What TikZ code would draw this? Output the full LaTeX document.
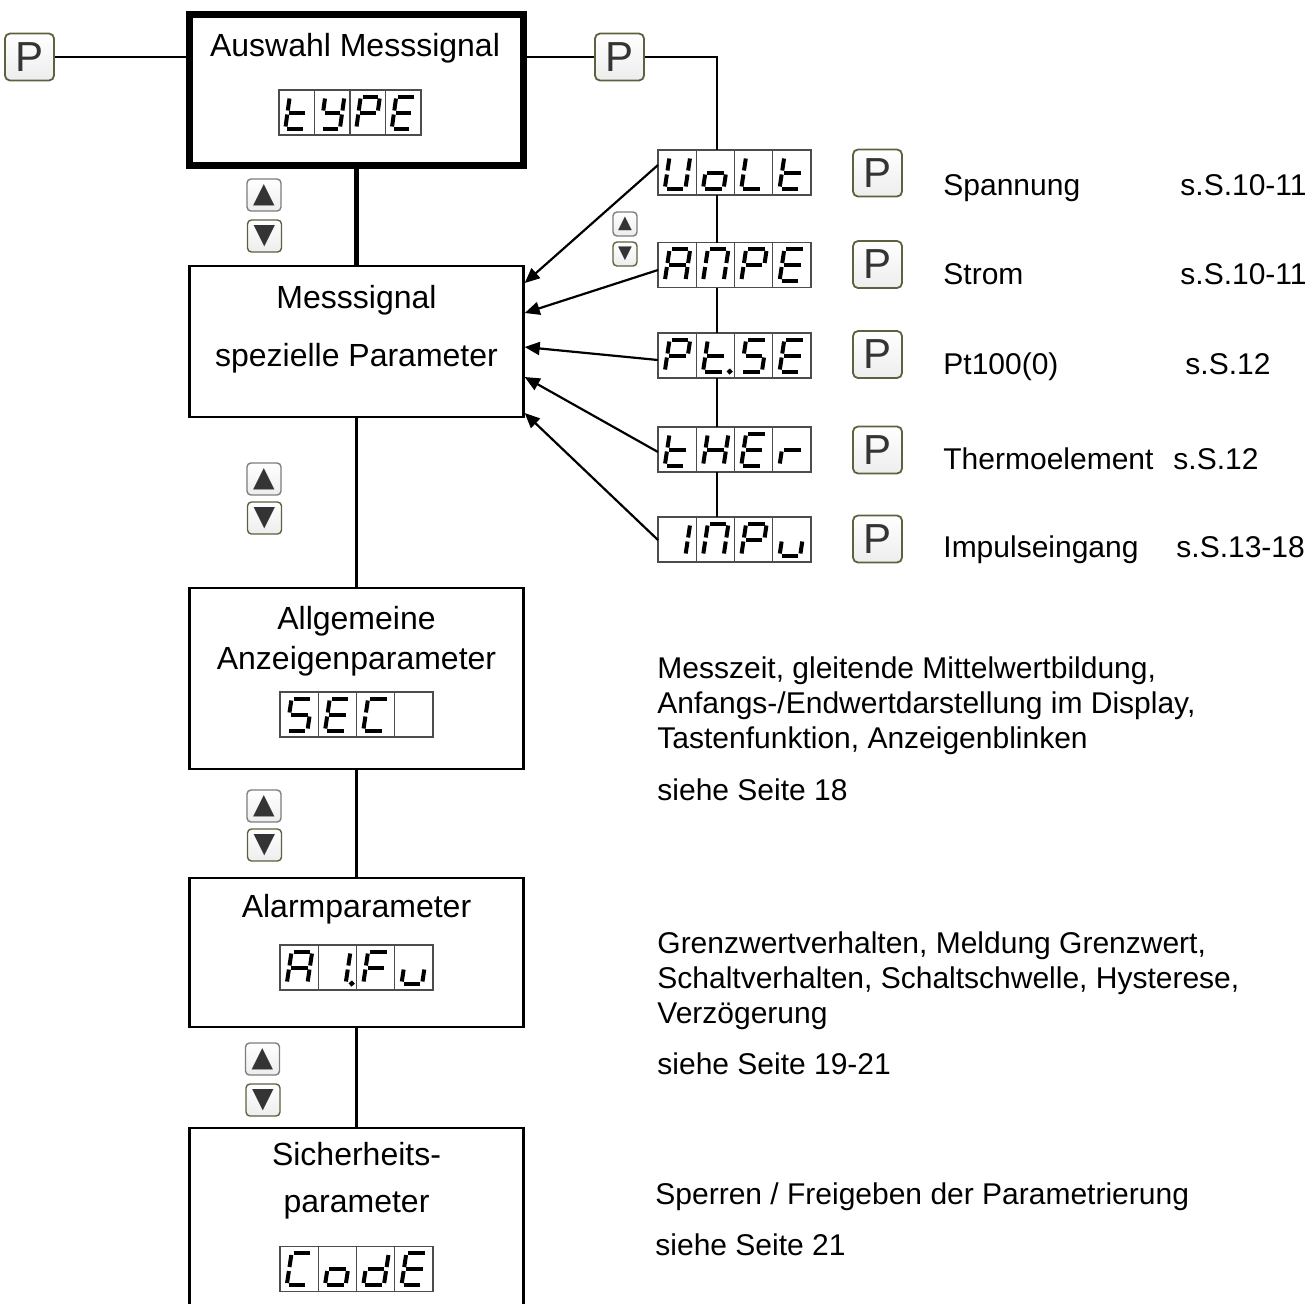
\documentclass[tikz,border=0pt]{standalone}
\usepackage{fontspec}
\setmainfont{Liberation Sans}
\newfontfamily\keyfont{DejaVu Sans}
\usepackage{tikz}
\usetikzlibrary{arrows.meta, calc}
\definecolor{keyolive}{RGB}{96, 96, 62}
\definecolor{keygray}{RGB}{125, 125, 125}
\definecolor{glyphgray}{RGB}{52, 52, 52}

% seven-segment pieces, one cell is 38 x 45
\def\sega{(14.5,6.5) -- (31,6.5)}
\def\segb{(33,8.5) -- (33,20.5)}
\def\segc{(33,24.5) -- (33,36.5)}
\def\segd{(14.5,38.5) -- (31,38.5)}
\def\sege{(12.5,24.5) -- (12.5,36.5)}
\def\segf{(12.5,8.5) -- (12.5,20.5)}
\def\segg{(14.5,22.5) -- (31,22.5)}
\def\segp{(39,38.5) circle (0.3)}
\def\segn{}

\newcommand{\segcell}[2]{%
  \begin{scope}[shift={(#1,0)}, xslant=0.15]
    \foreach \s in {#2} {%
      \expandafter\let\expandafter\segpath\csname seg\s\endcsname
      \draw[segline] \segpath;}
  \end{scope}}
\newcommand{\segdisplay}[7]{%
  \node[disp, minimum width={4*#3*0.5pt}] (#1) at (#2) {};
  \foreach \i in {1,2,3}
    \draw[dispframe] ($(#1.north west)+(\i*#3,0)$) -- ($(#1.south west)+(\i*#3,0)$);
  \begin{scope}[shift={(#1.north west)}, xscale=#3/38]
    \segcell{0}{#4}\segcell{38}{#5}\segcell{76}{#6}\segcell{114}{#7}
  \end{scope}}

\begin{document}
\begin{tikzpicture}[x=0.5pt, y=-0.5pt,
  mainbox/.style={draw, line width=3.5pt, minimum width=167pt, minimum height=75.5pt, inner sep=0pt},
  stepbox/.style={draw, line width=1.2pt, minimum width=167pt, inner sep=0pt},
  boxtext/.style={font=\fontsize{16}{19}\selectfont, anchor=base, inner sep=0pt},
  lbl/.style={font=\fontsize{15}{18}\selectfont, anchor=base west, inner sep=0pt},
  pkey/.style={draw=keyolive, line width=0.9pt, rounded corners=2.5pt, top color=white, bottom color=black!7, minimum width=24.5pt, minimum height=23.5pt, inner sep=0pt, text=glyphgray, font=\fontsize{21}{21}\selectfont},
  upkey/.style={draw=keygray, line width=0.7pt, rounded corners=2pt, top color=white, bottom color=black!7, minimum width=17pt, minimum height=16pt, inner sep=0pt, text=glyphgray, font=\keyfont\fontsize{14}{14}\selectfont},
  downkey/.style={upkey, draw=keyolive},
  smallkey/.style={minimum width=12pt, minimum height=12pt, font=\keyfont\fontsize{9}{9}\selectfont},
  disp/.style={draw=black!70, line width=0.6pt, fill=white, minimum height=22.5pt, inner sep=0pt, outer sep=0pt},
  dispframe/.style={draw=black!70, line width=0.6pt},
  segline/.style={line width=2pt},
  link/.style={line width=1.1pt},
  arr/.style={line width=1.1pt, -{Triangle[length=7.5pt, width=6.5pt]}}
]
  \useasboundingbox (0,0) rectangle (1315,1303);
  \clip (0,0) rectangle (1315,1303);

  % selection of the input signal
  \node[pkey] (pleft) at (29.5,57) {P};
  \node[mainbox] (main) at (356.5,90) {};
  \node[boxtext] (tmain) at (355,56) {Auswahl Messsignal};
  \segdisplay{type}{350,112.5}{35.5}{d,e,f,g}{b,c,d,f,g}{a,b,e,f,g}{a,d,e,f,g}
  \node[pkey] (pright) at (619.5,57) {P};

  % signal types
  \segdisplay{volt}{734.5,172.5}{38.25}{b,c,d,e,f}{c,d,e,g}{d,e,f}{d,e,f,g}
  \segdisplay{ampe}{734.5,265}{38.25}{a,b,c,e,f,g}{a,b,c,e,f}{a,b,e,f,g}{a,d,e,f,g}
  \segdisplay{ptse}{734.5,355.5}{38.25}{a,b,e,f,g}{d,e,f,g,p}{a,c,d,f,g}{a,d,e,f,g}
  \segdisplay{ther}{734.5,449.5}{38.25}{d,e,f,g}{b,c,e,f,g}{a,d,e,f,g}{e,g}
  \segdisplay{inpu}{734.5,539.5}{38.25}{b,c}{a,b,c,e,f}{a,b,e,f,g}{c,d,e}
  \node[upkey, smallkey] (upsel) at (625,224) {▲};
  \node[downkey, smallkey] (dnsel) at (625,254) {▼};

  \node[pkey] (pvolt) at (877.5,173) {P};
  \node[pkey] (pampe) at (877.5,264.5) {P};
  \node[pkey] (pptse) at (877.5,354.5) {P};
  \node[pkey] (pther) at (877.5,450) {P};
  \node[pkey] (pinpu) at (877.5,539) {P};
  \node[lbl] (lvolt) at (943,195) {Spannung};
  \node[lbl] (svolt) at (1180,195) {s.S.10-11};
  \node[lbl] (lampe) at (943,284) {Strom};
  \node[lbl] (sampe) at (1180,284) {s.S.10-11};
  \node[lbl] (lptse) at (943,374) {Pt100(0)};
  \node[lbl] (sptse) at (1185,374) {s.S.12};
  \node[lbl] (lther) at (943,469) {Thermoelement};
  \node[lbl] (sther) at (1173,469) {s.S.12};
  \node[lbl] (linpu) at (943,557) {Impulseingang};
  \node[lbl] (sinpu) at (1176,557) {s.S.13-18};

  % parameter groups
  \node[stepbox, minimum height=75.5pt] (msig) at (356.5,341.5) {};
  \node[boxtext] (tmsig1) at (356.5,308) {Messsignal};
  \node[boxtext] (tmsig2) at (356.5,366) {spezielle Parameter};

  \node[stepbox, minimum height=90.5pt] (allg) at (356.5,678.5) {};
  \node[boxtext] (tallg1) at (356.5,629) {Allgemeine};
  \node[boxtext] (tallg2) at (356.5,669) {Anzeigenparameter};
  \segdisplay{sec}{356.5,714.5}{38.25}{a,c,d,f,g}{a,d,e,f,g}{a,d,e,f}{n}

  \node[stepbox, minimum height=74.5pt] (alarm) at (356.5,952.5) {};
  \node[boxtext] (talarm) at (356.5,917) {Alarmparameter};
  \segdisplay{alfu}{356.5,967.5}{38.25}{a,b,c,e,f,g}{b,c,p}{a,e,f,g}{c,d,e}

  \node[stepbox, minimum height=110pt] (sich) at (356.5,1238) {};
  \node[boxtext] (tsich1) at (356.5,1165) {Sicherheits-};
  \node[boxtext] (tsich2) at (356.5,1212) {parameter};
  \segdisplay{code}{356.5,1269}{38.25}{a,d,e,f}{c,d,e,g}{b,c,d,e,g}{a,d,e,f,g}

  \node[upkey] (up1) at (264,195) {▲};
  \node[downkey] (dn1) at (264.5,236) {▼};
  \node[upkey] (up2) at (264,479) {▲};
  \node[downkey] (dn2) at (264.5,518) {▼};
  \node[upkey] (up3) at (264,806) {▲};
  \node[downkey] (dn3) at (264.5,845) {▼};
  \node[upkey] (up4) at (262.5,1059) {▲};
  \node[downkey] (dn4) at (263,1100) {▼};

  % descriptions
  \node[lbl] (dsec1) at (657,678) {Messzeit, gleitende Mittelwertbildung,};
  \node[lbl] (dsec2) at (657,713) {Anfangs-/Endwertdarstellung im Display,};
  \node[lbl] (dsec3) at (657,748) {Tastenfunktion, Anzeigenblinken};
  \node[lbl] (dsec4) at (657,800) {siehe Seite 18};
  \node[lbl] (dal1) at (657,953) {Grenzwertverhalten, Meldung Grenzwert,};
  \node[lbl] (dal2) at (657,988) {Schaltverhalten, Schaltschwelle, Hysterese,};
  \node[lbl] (dal3) at (657,1023) {Verzögerung};
  \node[lbl] (dal4) at (657,1074) {siehe Seite 19-21};
  \node[lbl] (dcode1) at (655,1204) {Sperren / Freigeben der Parametrierung};
  \node[lbl] (dcode2) at (655,1255) {siehe Seite 21};

  % connections
  \draw[link] (pleft.east) -- (pleft.east -| main.west);
  \draw[link] (pright.west -| main.east) -- (pright.west);
  \draw[link] (pright.east) -| ($(volt.north west)+(59,0)$);
  \foreach \a/\b in {volt/ampe, ampe/ptse, ptse/ther, ther/inpu}
    \draw[link] ($(\a.south west)+(59,0)$) -- ($(\b.north west)+(59,0)$);
  \foreach \src/\ys/\yt in {volt/-7.5/-58.5, ampe/5/-28.5, ptse/4.5/5.5, ther/2.5/35.5, inpu/0.5/71.5}
    \draw[arr] ($(\src.west)+(0,\ys)$) -- ($(msig.east)+(0,\yt)$);
  \draw[line width=2.5pt] (main.south) -- (msig.north);
  \draw[link] (msig.south) -- (allg.north);
  \draw[link] (allg.south) -- (alarm.north);
  \draw[link] (alarm.south) -- (sich.north);
\end{tikzpicture}
\end{document}
